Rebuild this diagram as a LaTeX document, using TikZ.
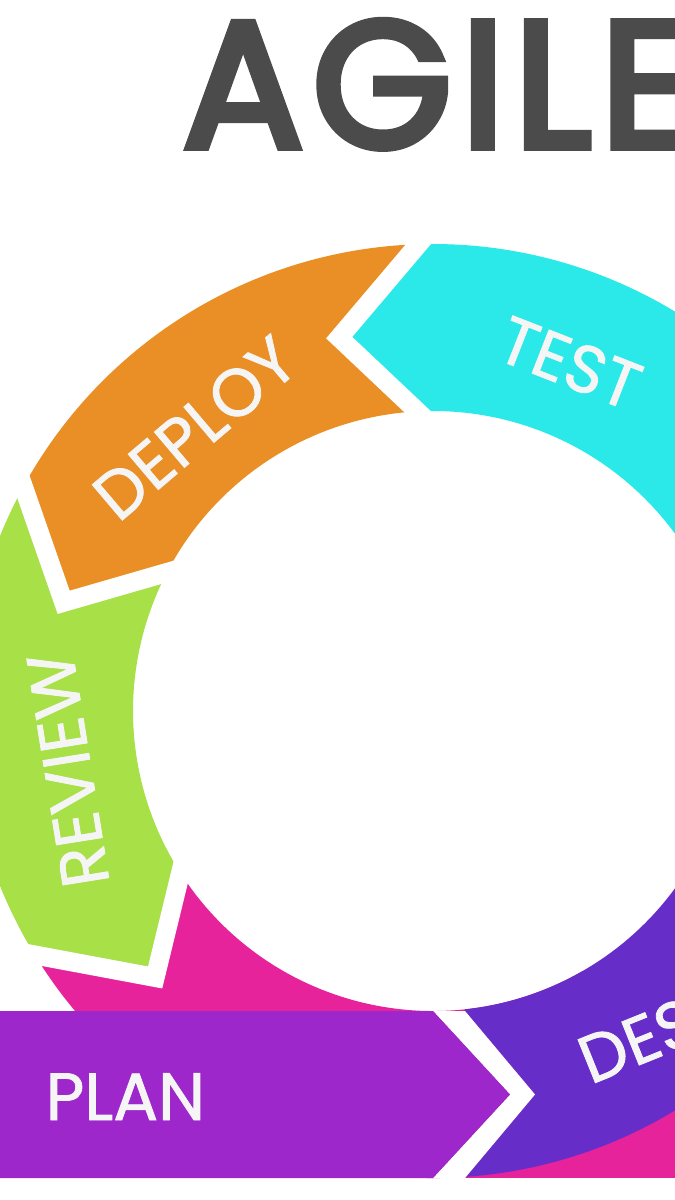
\documentclass[tikz,border=0pt]{standalone}
\usepackage{fontspec}
\setmainfont{Poppins}
\newfontfamily\ttlfont{Poppins}[FakeBold=4.3, LetterSpace=5]
\newfontfamily\lblfont{Poppins}[FakeBold=1.2]
\usetikzlibrary{calc}
\definecolor{agtest}{HTML}{2BE9E9}
\definecolor{agdeploy}{HTML}{EA8F25}
\definecolor{agreview}{HTML}{A7E047}
\definecolor{agpink}{HTML}{E6239B}
\definecolor{agplan}{HTML}{9D27CB}
\definecolor{agdesign}{HTML}{672DC9}
\definecolor{aggrey}{HTML}{4B4B4B}

\begin{document}
\begin{tikzpicture}[
  gap/.style={draw=white, line width=1.9mm, line join=miter},
  lbl/.style={text=white!96!black, font=\lblfont\fontsize{19}{19}\selectfont,
    inner sep=0pt},
  ttl/.style={text=aggrey, font=\ttlfont\fontsize{51}{51}\selectfont,
    inner sep=0pt},
]
\clip (-4.33,-4.89) rectangle (2.42,7.11);
\fill[white] (-4.33,-4.89) rectangle (2.42,7.11);
% ring pieces, counter-clockwise
\fill[agpink] (211.5:4.67) arc[start angle=211.5, end angle=300, radius=4.67]
  -- (300:3) arc[start angle=300, end angle=212.7, radius=3]
  -- (223.8:3.85) -- cycle;
\fill[agpink] (0,-3) rectangle (2.5,-4.67);
\fill[agtest] (0:4.67) arc[start angle=0, end angle=91.8, radius=4.67]
  -- (104.1:3.85) -- (93:3) arc[start angle=93, end angle=0, radius=3] -- cycle;
\fill[agdeploy] (91.8:4.67) arc[start angle=91.8, end angle=151.3, radius=4.67]
  -- (163.6:3.85) -- (152.5:3) arc[start angle=152.5, end angle=93, radius=3]
  -- (104.1:3.85) -- cycle;
\fill[agreview] (151.3:4.67) arc[start angle=151.3, end angle=211.5, radius=4.67]
  -- (223.8:3.85) -- (212.7:3) arc[start angle=212.7, end angle=152.5, radius=3]
  -- (163.6:3.85) -- cycle;
\begin{scope}
\clip (0.32,0) -- (0.32,-3) -- (1.02,-3.835) -- (0.32,-4.67) -- (0.32,-5)
  -- (2.5,-5) -- (2.5,0) -- cycle;
\fill[agdesign] (250:4.67) arc[start angle=250, end angle=360, radius=4.67]
  -- (0:3) arc[start angle=360, end angle=250, radius=3] -- cycle;
\end{scope}
% white gaps
\draw[gap] ($(104.1:3.85)!1.3!(91.8:4.67)$) -- (104.1:3.85)
  -- ($(104.1:3.85)!1.3!(93:3)$);
\draw[gap] ($(163.6:3.85)!1.3!(151.3:4.67)$) -- (163.6:3.85)
  -- ($(163.6:3.85)!1.3!(152.5:3)$);
\draw[gap] ($(223.8:3.85)!1.3!(211.5:4.67)$) -- (223.8:3.85)
  -- ($(223.8:3.85)!1.3!(212.7:3)$);
\fill[white] (0,-3) -- (0.77,-3.835) -- (0,-4.67) -- (0.32,-4.67)
  -- (1.02,-3.835) -- (0.32,-3) -- cycle;
% plan bar
\fill[agplan] (-4.5,-3) -- (0,-3) -- (0.77,-3.835) -- (0,-4.67)
  -- (-4.5,-4.67) -- cycle;
% labels
\node[ttl, anchor=base west] (title) at (-2.51,5.64) {AGILE};
\node[lbl, rotate=-21.4] (test) at (1.37,3.48) {TEST};
\node[lbl, rotate=40.3] (deploy) at (-2.38,2.83) {DEPLOY};
\node[lbl, rotate=99.1] (review) at (-3.65,-0.59) {REVIEW};
\node[lbl, anchor=base west] (plan) at (-3.88,-4.09) {PLAN};
\node[lbl, anchor=base west, rotate=22] (design) at (1.57,-3.74) {DESIGN};
\end{tikzpicture}
\end{document}
